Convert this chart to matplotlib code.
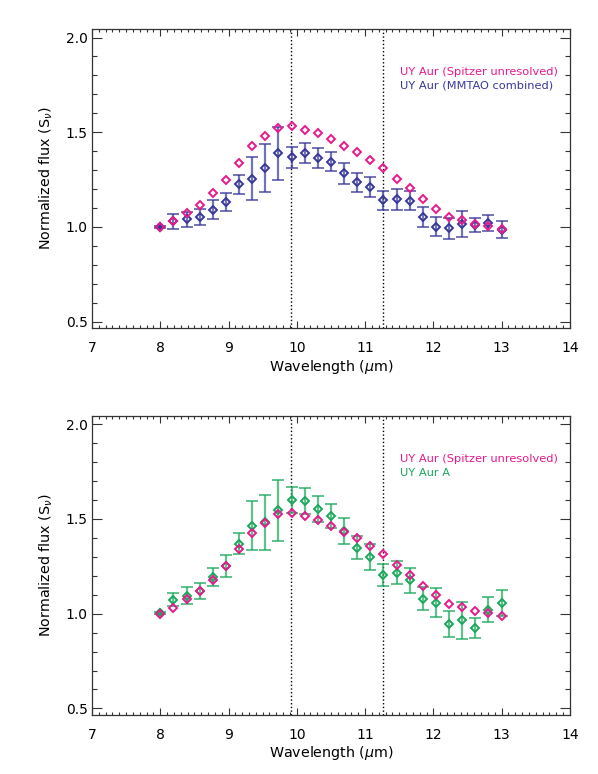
import numpy as np
import matplotlib
matplotlib.use('Agg')
from matplotlib import pyplot as plt
from matplotlib.ticker import MultipleLocator

# wavelengths (micron), 27 samples from 8 to 13
wave = np.linspace(8.0, 13.0, 27)

# UY Aur, Spitzer unresolved
spitzer = [1.00, 1.03, 1.076, 1.118, 1.18, 1.25, 1.34, 1.426, 1.48, 1.525,
           1.534, 1.514, 1.495, 1.462, 1.43, 1.398, 1.356, 1.314, 1.255, 1.205,
           1.147, 1.097, 1.053, 1.036, 1.015, 1.003, 0.988]

# UY Aur, MMTAO combined
mmtao = [1.00, 1.03, 1.04, 1.053, 1.09, 1.13, 1.225, 1.255, 1.31, 1.39,
         1.368, 1.39, 1.363, 1.344, 1.284, 1.235, 1.21, 1.141, 1.146, 1.139,
         1.054, 1.002, 0.992, 1.016, 1.011, 1.021, 0.986]
mmtao_err = [0.005, 0.04, 0.04, 0.04, 0.05, 0.047, 0.05, 0.115, 0.127, 0.14,
             0.056, 0.054, 0.053, 0.05, 0.055, 0.05, 0.053, 0.049, 0.055, 0.049,
             0.054, 0.05, 0.053, 0.07, 0.039, 0.043, 0.046]

# UY Aur A
uyaur_a = [1.004, 1.074, 1.095, 1.121, 1.194, 1.252, 1.37, 1.465, 1.483, 1.545,
           1.60, 1.594, 1.552, 1.517, 1.437, 1.349, 1.30, 1.204, 1.216, 1.176,
           1.08, 1.058, 0.946, 0.964, 0.923, 1.022, 1.057]
uyaur_a_err = [0.005, 0.035, 0.045, 0.043, 0.046, 0.057, 0.056, 0.129, 0.145, 0.16,
               0.07, 0.07, 0.067, 0.064, 0.068, 0.062, 0.07, 0.06, 0.061, 0.065,
               0.059, 0.075, 0.068, 0.10, 0.054, 0.064, 0.07]

# silicate feature markers
feature_lines = [9.91, 11.26]

pink = '#e8198c'
blue = '#38389a'
green = '#1aa85c'

plt.rcParams['font.family'] = 'DejaVu Sans'

fig = plt.figure(figsize=(5.98, 7.74), dpi=100)
ax1 = fig.add_axes([0.1538, 0.5758, 0.7992, 0.3867])
ax2 = fig.add_axes([0.1538, 0.0762, 0.7992, 0.3867])


def panel(ax, y, yerr, color, label):
    for xv in feature_lines:
        ax.axvline(xv, color='black', ls=':', lw=1.0, zorder=1)
    ax.errorbar(wave, y, yerr=yerr, fmt='none', ecolor=color, elinewidth=1.6,
                capsize=4.5, capthick=1.4, alpha=0.7, zorder=2)
    ax.plot(wave, y, 'D', ms=4.2, mfc='none', mec=color, mew=1.4, zorder=3)
    ax.plot(wave[0], y[0], 'D', ms=4.2, mfc=color, mec=color, mew=1.4, zorder=3)
    ax.plot(wave, spitzer, 'D', ms=4.2, mfc='none', mec=pink, mew=1.4, zorder=4)

    ax.set_xlim(7, 14)
    ax.set_ylim(0.465, 2.045)
    ax.xaxis.set_major_locator(MultipleLocator(1))
    ax.xaxis.set_minor_locator(MultipleLocator(0.1))
    ax.yaxis.set_major_locator(MultipleLocator(0.5))
    ax.yaxis.set_minor_locator(MultipleLocator(0.1))
    ax.yaxis.set_major_formatter(matplotlib.ticker.FormatStrFormatter('%.1f'))
    ax.tick_params(axis='both', which='both', direction='in', top=True, right=True,
                   labelsize=10, color='#333333', width=0.8)
    ax.tick_params(axis='x', which='major', length=5, pad=9)
    ax.tick_params(axis='x', which='minor', length=2.5)
    ax.tick_params(axis='y', which='major', length=7.5, pad=3)
    ax.tick_params(axis='y', which='minor', length=3.8)
    for s in ax.spines.values():
        s.set_color('#333333')
        s.set_linewidth(0.9)

    ax.set_xlabel('Wavelength ($\\mu$m)', fontsize=10.3, labelpad=2)
    ax.set_ylabel('Normalized flux (S$_\\nu$)', fontsize=10.3, labelpad=8)

    ax.text(0.645, 0.855, 'UY Aur (Spitzer unresolved)', color=pink, fontsize=8.2,
            transform=ax.transAxes, va='center', ha='left')
    ax.text(0.645, 0.81, label, color=color, fontsize=8.2,
            transform=ax.transAxes, va='center', ha='left')


panel(ax1, mmtao, mmtao_err, blue, 'UY Aur (MMTAO combined)')
panel(ax2, uyaur_a, uyaur_a_err, green, 'UY Aur A')

fig.savefig('out.png', dpi=100)
